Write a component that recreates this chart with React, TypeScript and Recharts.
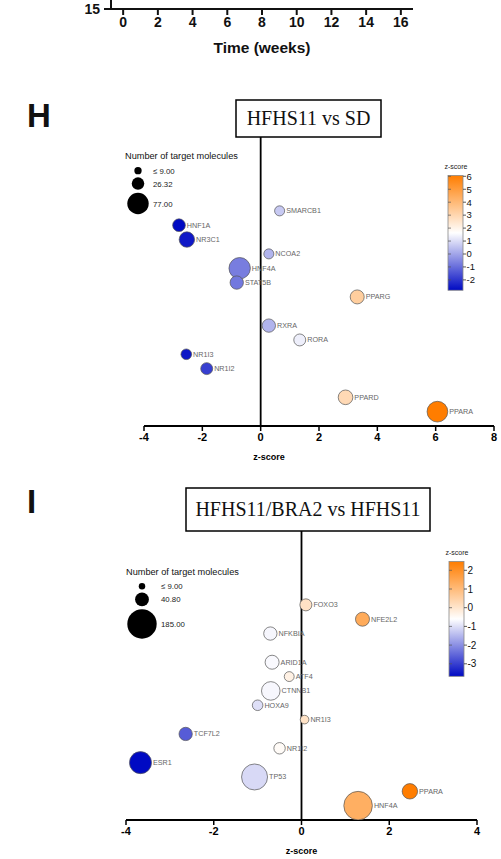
import React from "react";
import { ScatterChart, Scatter, XAxis, YAxis, ReferenceLine } from "recharts";

// previous panel (only its x axis is visible at the top)
const weekTicks = [0, 2, 4, 6, 8, 10, 12, 14, 16];
const prevYTicks = [15];

// panel H: HFHS11 vs SD
const hGenes = ["SMARCB1", "HNF1A", "NR3C1", "NCOA2", "HNF4A", "STAT5B", "PPARG", "RXRA", "RORA", "NR1I3", "NR1I2", "PPARD", "PPARA"];
const hZScores = [0.65, -2.8, -2.53, 0.28, -0.72, -0.82, 3.31, 0.28, 1.34, -2.55, -1.85, 2.91, 6.06];
const hRows = [1, 2, 3, 4, 5, 6, 7, 9, 10, 11, 12, 14, 15];
const hTargets = [17, 27, 40, 17, 77, 30, 33, 30, 24, 19, 24, 36, 72];
const hXTicks = [-4, -2, 0, 2, 4, 6, 8];
const hLegendValues = [9, 26.32, 77];
const hLegendLabels = ["≤ 9.00", "26.32", "77.00"];
const hBarTicks = [-2, -1, 0, 1, 2, 3, 4, 5, 6];

// panel I: HFHS11/BRA2 vs HFHS11
const iGenes = ["FOXO3", "NFE2L2", "NFKBIA", "ARID1A", "ATF4", "CTNNB1", "HOXA9", "NR1I3", "TCF7L2", "NR1I2", "ESR1", "TP53", "PPARA", "HNF4A"];
const iZScores = [0.1, 1.39, -0.71, -0.67, -0.28, -0.7, -1.0, 0.07, -2.64, -0.5, -3.67, -1.07, 2.47, 1.29];
const iRows = [1, 2, 3, 5, 6, 7, 8, 9, 10, 11, 12, 13, 14, 15];
const iTargets = [31, 42, 38, 42, 21, 74, 24, 16, 38, 28, 104, 145, 51, 175];
const iXTicks = [-4, -2, 0, 2, 4];
const iLegendValues = [9, 40.8, 185];
const iLegendLabels = ["≤ 9.00", "40.80", "185.00"];
const iBarTicks = [-3, -2, -1, 0, 1, 2];

const SANS = "'Liberation Sans', Arial, sans-serif";
const SERIF = "'Liberation Serif', 'Times New Roman', serif";
const BLUE = [0, 10, 195];
const ORANGE = [255, 125, 0];

const mix = (a: number[], b: number[], t: number) =>
  `rgb(${a.map((v, i) => Math.round(v + (b[i] - v) * t)).join(",")})`;

function zColor(z: number, min: number, max: number) {
  const mid = (min + max) / 2;
  if (z < mid) return mix(BLUE, [255, 255, 255], (z - min) / (mid - min));
  return mix([255, 255, 255], ORANGE, (z - mid) / (max - mid));
}

const build = (genes: string[], zs: number[], rows: number[], ns: number[]) =>
  genes.map((gene, i) => ({ gene, z: zs[i], row: rows[i], n: ns[i] }));

const hData = build(hGenes, hZScores, hRows, hTargets);
const iData = build(iGenes, iZScores, iRows, iTargets);

const bubble = (k: number, min: number, max: number) => (p: any) => {
  const r = Math.sqrt(p.payload.n) * k;
  return (
    <g>
      <circle cx={p.cx} cy={p.cy} r={r} fill={zColor(p.payload.z, min, max)} stroke="#555" strokeWidth={0.7} />
      <text x={p.cx + r + 1.5} y={p.cy + 2.5} fontSize={7.2} fill="#666" fontFamily={SANS}>
        {p.payload.gene}
      </text>
    </g>
  );
};

interface PanelProps {
  top: number;
  data: { gene: string; z: number; row: number; n: number }[];
  domain: [number, number];
  ticks: number[];
  left: number;
  right: number;
  k: number;
  labelDx: number;
}

const Panel = ({ top, data, domain, ticks, left, right, k, labelDx }: PanelProps) => {
  const zs = data.map((d) => d.z);
  const min = Math.min(...zs);
  const max = Math.max(...zs);
  return (
    <div style={{ position: "absolute", top, left: 0 }}>
      <ScatterChart width={501} height={325} margin={{ top: 0, right, bottom: 0, left }} accessibilityLayer={false}>
        <XAxis
          dataKey="z"
          type="number"
          domain={domain}
          ticks={ticks}
          allowDataOverflow
          height={36}
          tickSize={5}
          tick={{ fontSize: 11, fontWeight: "bold", fill: "#000", fontFamily: SANS }}
          tickLine={{ stroke: "#000", strokeWidth: 1.5 }}
          axisLine={{ stroke: "#000", strokeWidth: 1.8 }}
          label={{ value: "z-score", position: "insideBottom", offset: 2, dx: labelDx, fontSize: 9, fontWeight: "bold", fill: "#000", fontFamily: SANS }}
        />
        <YAxis dataKey="row" type="number" domain={[-4.15, 16]} reversed hide allowDataOverflow />
        <ReferenceLine x={0} stroke="#000" strokeWidth={1.8} />
        <Scatter data={data} isAnimationActive={false} shape={bubble(k, min, max)} />
      </ScatterChart>
    </div>
  );
};

const SizeLegend = ({ x, y, k, cx, lx, values, labels }: { x: number; y: number; k: number; cx: number; lx: number; values: number[]; labels: string[] }) => {
  const rs = values.map((v) => Math.sqrt(v) * k);
  let cy = y + 8;
  return (
    <g fontFamily={SANS}>
      <text x={x} y={y + 3} fontSize={9.2} fill="#111">Number of target molecules</text>
      {rs.map((r, i) => {
        cy += (i === 0 ? 3 : rs[i - 1] + 3) + r;
        return (
          <g key={i}>
            <circle cx={cx} cy={cy} r={r} fill="#000" />
            <text x={lx} y={cy + 3} fontSize={7.8} fill="#222">{labels[i]}</text>
          </g>
        );
      })}
    </g>
  );
};

const ColorBar = ({ id, x, y0, ppu, zs, ticks, fontSize }: { id: string; x: number; y0: number; ppu: number; zs: number[]; ticks: number[]; fontSize: number }) => {
  const min = Math.min(...zs);
  const max = Math.max(...zs);
  const yTop = y0 - max * ppu;
  const yBot = y0 - min * ppu;
  return (
    <g fontFamily={SANS}>
      <defs>
        <linearGradient id={id} x1="0" y1="0" x2="0" y2="1">
          <stop offset="0%" stopColor={mix(ORANGE, ORANGE, 0)} />
          <stop offset="50%" stopColor="#ffffff" />
          <stop offset="100%" stopColor={mix(BLUE, BLUE, 0)} />
        </linearGradient>
      </defs>
      <text x={x + 8} y={yTop - 7} fontSize={7} textAnchor="middle" fill="#222">z-score</text>
      <rect x={x} y={yTop} width={15} height={yBot - yTop} fill={`url(#${id})`} stroke="#888" strokeWidth={0.8} />
      {ticks.map((t) => (
        <g key={t}>
          <line x1={x} x2={x + 3} y1={y0 - t * ppu} y2={y0 - t * ppu} stroke="#555" strokeWidth={0.7} />
          <line x1={x + 15} x2={x + 18} y1={y0 - t * ppu} y2={y0 - t * ppu} stroke="#333" strokeWidth={0.8} />
          <text x={x + 18.5} y={y0 - t * ppu + fontSize * 0.35} fontSize={fontSize} fill="#111">{t}</text>
        </g>
      ))}
    </g>
  );
};

export default function App() {
  return (
    <div style={{ position: "absolute", top: 0, left: 0, width: 501, height: 859, background: "#fff", overflow: "hidden" }}>
      {/* tail of the previous panel */}
      <div style={{ position: "absolute", top: -10, left: 0 }}>
        <ScatterChart width={501} height={70} margin={{ top: 0, right: 88, bottom: 0, left: 0 }} accessibilityLayer={false}>
          <XAxis
            dataKey="week"
            type="number"
            domain={[-0.7, 16.7]}
            allowDataOverflow
            ticks={weekTicks}
            interval={0}
            height={51}
            tickSize={6}
            tick={{ fontSize: 14, fontWeight: "bold", fill: "#111", fontFamily: SANS }}
            tickLine={{ stroke: "#111", strokeWidth: 2 }}
            axisLine={{ stroke: "#111", strokeWidth: 2 }}
          />
          <YAxis
            dataKey="value"
            type="number"
            domain={[15, 20]}
            allowDataOverflow
            ticks={prevYTicks}
            interval={0}
            width={111}
            tickSize={7}
            tickMargin={4}
            tick={{ fontSize: 14, fontWeight: "bold", fill: "#111", fontFamily: SANS }}
            tickLine={{ stroke: "#111", strokeWidth: 2 }}
            axisLine={{ stroke: "#111", strokeWidth: 2 }}
          />
          <Scatter data={[]} isAnimationActive={false} />
        </ScatterChart>
      </div>

      <Panel top={137} data={hData} domain={[-4, 8]} ticks={hXTicks} left={144} right={7} k={1.22} labelDx={-50} />
      <Panel top={531} data={iData} domain={[-4, 4]} ticks={iXTicks} left={126} right={24} k={1.08} labelDx={0} />

      <svg width={501} height={859} style={{ position: "absolute", top: 0, left: 0, pointerEvents: "none" }}>
        <text x={262} y={53} fontSize={15.5} fontWeight="bold" textAnchor="middle" fontFamily={SANS} fill="#111">Time (weeks)</text>

        <text x={27} y={127} fontSize={33} fontWeight="bold" fontFamily={SANS} fill="#111">H</text>
        <text x={27} y={513} fontSize={33} fontWeight="bold" fontFamily={SANS} fill="#111">I</text>

        <rect x={236} y={100} width={145} height={37} fill="#fff" stroke="#000" strokeWidth={1.5} />
        <text x={308.5} y={125} fontSize={20} textAnchor="middle" fontFamily={SERIF} fill="#111">HFHS11 vs SD</text>
        <rect x={186} y={488} width={244} height={43} fill="#fff" stroke="#000" strokeWidth={1.5} />
        <text x={308} y={516} fontSize={20} textAnchor="middle" fontFamily={SERIF} fill="#111">HFHS11/BRA2 vs HFHS11</text>

        <SizeLegend x={125} y={156} k={1.22} cx={138} lx={153} values={hLegendValues} labels={hLegendLabels} />
        <SizeLegend x={126} y={572} k={1.08} cx={142} lx={161} values={iLegendValues} labels={iLegendLabels} />

        <ColorBar id="gh" x={448} y0={254} ppu={12.95} zs={hZScores} ticks={hBarTicks} fontSize={9.5} />
        <ColorBar id="gi" x={449} y0={607.7} ppu={18.7} zs={iZScores} ticks={iBarTicks} fontSize={10} />
      </svg>
    </div>
  );
}
